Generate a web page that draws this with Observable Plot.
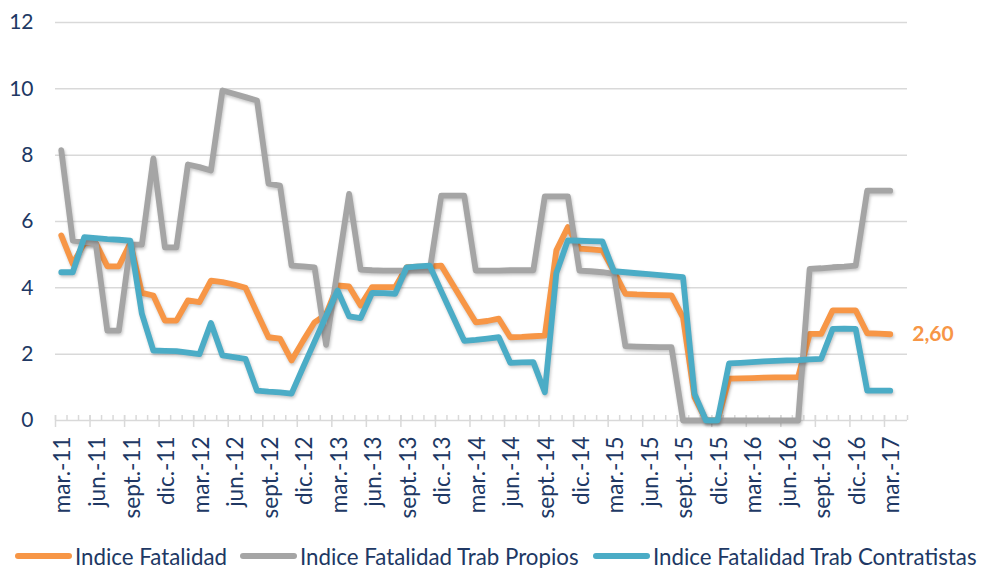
<!DOCTYPE html>
<html><head><meta charset="utf-8">
<script src="https://cdn.jsdelivr.net/npm/d3@7"></script>
<script src="https://cdn.jsdelivr.net/npm/@observablehq/plot@0.6"></script>
<style>
html,body{margin:0;padding:0;background:#fff;}
body{width:982px;height:568px;overflow:hidden;font-family:Lato,"Open Sans",sans-serif;}
#chart svg g[aria-label="line"]{filter:drop-shadow(1px 2px 1.5px rgba(0,0,0,0.22));}
.legend{position:relative;height:38px;color:#203864;font-size:22.3px;}
.legend .item{position:absolute;top:14px;display:flex;align-items:center;height:24px;white-space:nowrap;}
.legend .sw{width:57px;height:6px;border-radius:3px;margin-right:3px;}
</style></head><body>
<div id="chart"></div>
<div class="legend" id="legend"></div>
<script>
// Monthly values, mar-11 .. mar-17 (73 months); axis has one empty extra month (apr-17)
const fatalidad = [5.58,4.72,5.35,5.35,4.65,4.65,5.35,3.85,3.77,3.01,3.01,3.62,3.57,4.22,4.17,4.10,4.00,3.25,2.51,2.47,1.81,2.40,2.96,3.20,4.07,4.04,3.47,4.02,4.02,4.02,4.62,4.64,4.65,4.67,4.10,3.53,2.96,3.00,3.07,2.51,2.52,2.54,2.56,5.13,5.83,5.18,5.16,5.13,4.50,3.82,3.80,3.79,3.78,3.77,3.11,0.70,0,0,1.26,1.27,1.28,1.29,1.30,1.30,1.31,2.61,2.61,3.32,3.32,3.32,2.63,2.62,2.60];
const propios = [8.15,5.42,5.38,5.33,2.71,2.71,5.30,5.30,7.90,5.22,5.22,7.72,7.64,7.54,9.95,9.85,9.75,9.65,7.14,7.08,4.67,4.65,4.62,2.28,4.55,6.83,4.55,4.53,4.52,4.52,4.52,4.52,4.52,6.78,6.78,6.78,4.52,4.52,4.52,4.53,4.53,4.53,6.76,6.76,6.76,4.52,4.50,4.47,4.42,2.24,2.23,2.22,2.21,2.21,0,0,0,0,0,0,0,0,0,0,0,4.57,4.59,4.62,4.64,4.67,6.93,6.93,6.93];
const contratistas = [4.47,4.47,5.53,5.50,5.47,5.45,5.42,3.22,2.11,2.10,2.09,2.05,2.00,2.94,1.96,1.91,1.86,0.90,0.87,0.85,0.81,1.60,2.38,3.15,3.92,3.14,3.09,3.85,3.84,3.82,4.62,4.65,4.67,3.90,3.15,2.40,2.43,2.47,2.51,1.74,1.75,1.76,0.85,4.45,5.43,5.42,5.41,5.40,4.50,4.47,4.44,4.41,4.38,4.35,4.32,0.80,0,0,1.72,1.74,1.76,1.78,1.80,1.81,1.82,1.84,1.86,2.76,2.77,2.76,0.90,0.90,0.90];
const tickLabels = ["mar.-11","jun.-11","sept.-11","dic.-11","mar.-12","jun.-12","sept.-12","dic.-12","mar.-13","jun.-13","sept.-13","dic.-13","mar.-14","jun.-14","sept.-14","dic.-14","mar.-15","jun.-15","sept.-15","dic.-15","mar.-16","jun.-16","sept.-16","dic.-16","mar.-17"];
const seriesNames = ["Indice Fatalidad","Indice Fatalidad Trab Propios","Indice Fatalidad Trab Contratistas"];
const seriesColors = ["#F79646","#A5A5A5","#4BACC6"];
const yTicks = [0,2,4,6,8,10,12];
const nCategories = 74;
const lastLabel = "2,60";

const allSeries = [fatalidad, propios, contratistas];
const rows = allSeries.map(vals => vals.map((v,i) => ({i, v})));
const boundaries = d3.range(nCategories + 1).map(k => k - 0.5);
const majorBoundaries = boundaries.filter((b,k) => k % 3 === 0 && k < nCategories);
const labelPositions = tickLabels.map((_, k) => k * 3);
const navy = "#203864";
const grid = "#d9d9d9";

const chart = Plot.plot({
  width: 982, height: 530,
  marginLeft: 55, marginRight: 75, marginTop: 22, marginBottom: 110,
  x: {type: "linear", domain: [-0.5, nCategories - 0.5], label: null},
  y: {domain: [0, 12], label: null},
  style: {fontFamily: "Lato, 'Open Sans', sans-serif", color: navy, background: "white", overflow: "visible"},
  marks: [
    Plot.gridY(yTicks.filter(t => t > 0), {stroke: grid, strokeOpacity: 1, strokeWidth: 1.5}),
    Plot.ruleY([0], {stroke: grid, strokeWidth: 1.5}),
    Plot.ruleX(boundaries, {x: d => d, y1: 0, y2: 0, insetTop: -5, insetBottom: 0, stroke: grid, strokeWidth: 1.5}),
    Plot.ruleX(majorBoundaries, {x: d => d, y1: 0, y2: 0, insetTop: -5, insetBottom: -7, stroke: grid, strokeWidth: 1.5}),
    Plot.axisY({ticks: yTicks, tickSize: 0, tickPadding: 22, fontSize: 21, tickFormat: d => String(d), label: null}),
    Plot.axisX({ticks: labelPositions, tickFormat: i => tickLabels[i / 3], tickRotate: -90, tickSize: 0, tickPadding: 16, fontSize: 22.5, dx: 2, label: null}),
    ...rows.map((r, k) => Plot.line(r, {x: "i", y: "v", stroke: seriesColors[k], strokeWidth: 5.8, strokeLinejoin: "round", strokeLinecap: "round"})),
    Plot.text([rows[0][rows[0].length - 1]], {x: "i", y: "v", text: () => lastLabel, dx: 22, textAnchor: "start", fill: seriesColors[0], fontWeight: "bold", fontSize: 21})
  ]
});
document.getElementById("chart").appendChild(chart);

const legend = document.getElementById("legend");
const legendX = [15, 240, 593];
seriesNames.forEach((name, k) => {
  const item = document.createElement("div");
  item.className = "item";
  item.style.left = legendX[k] + "px";
  const sw = document.createElement("span");
  sw.className = "sw";
  sw.style.background = seriesColors[k];
  const t = document.createElement("span");
  t.textContent = name;
  item.appendChild(sw); item.appendChild(t);
  legend.appendChild(item);
});
</script>
</body></html>
